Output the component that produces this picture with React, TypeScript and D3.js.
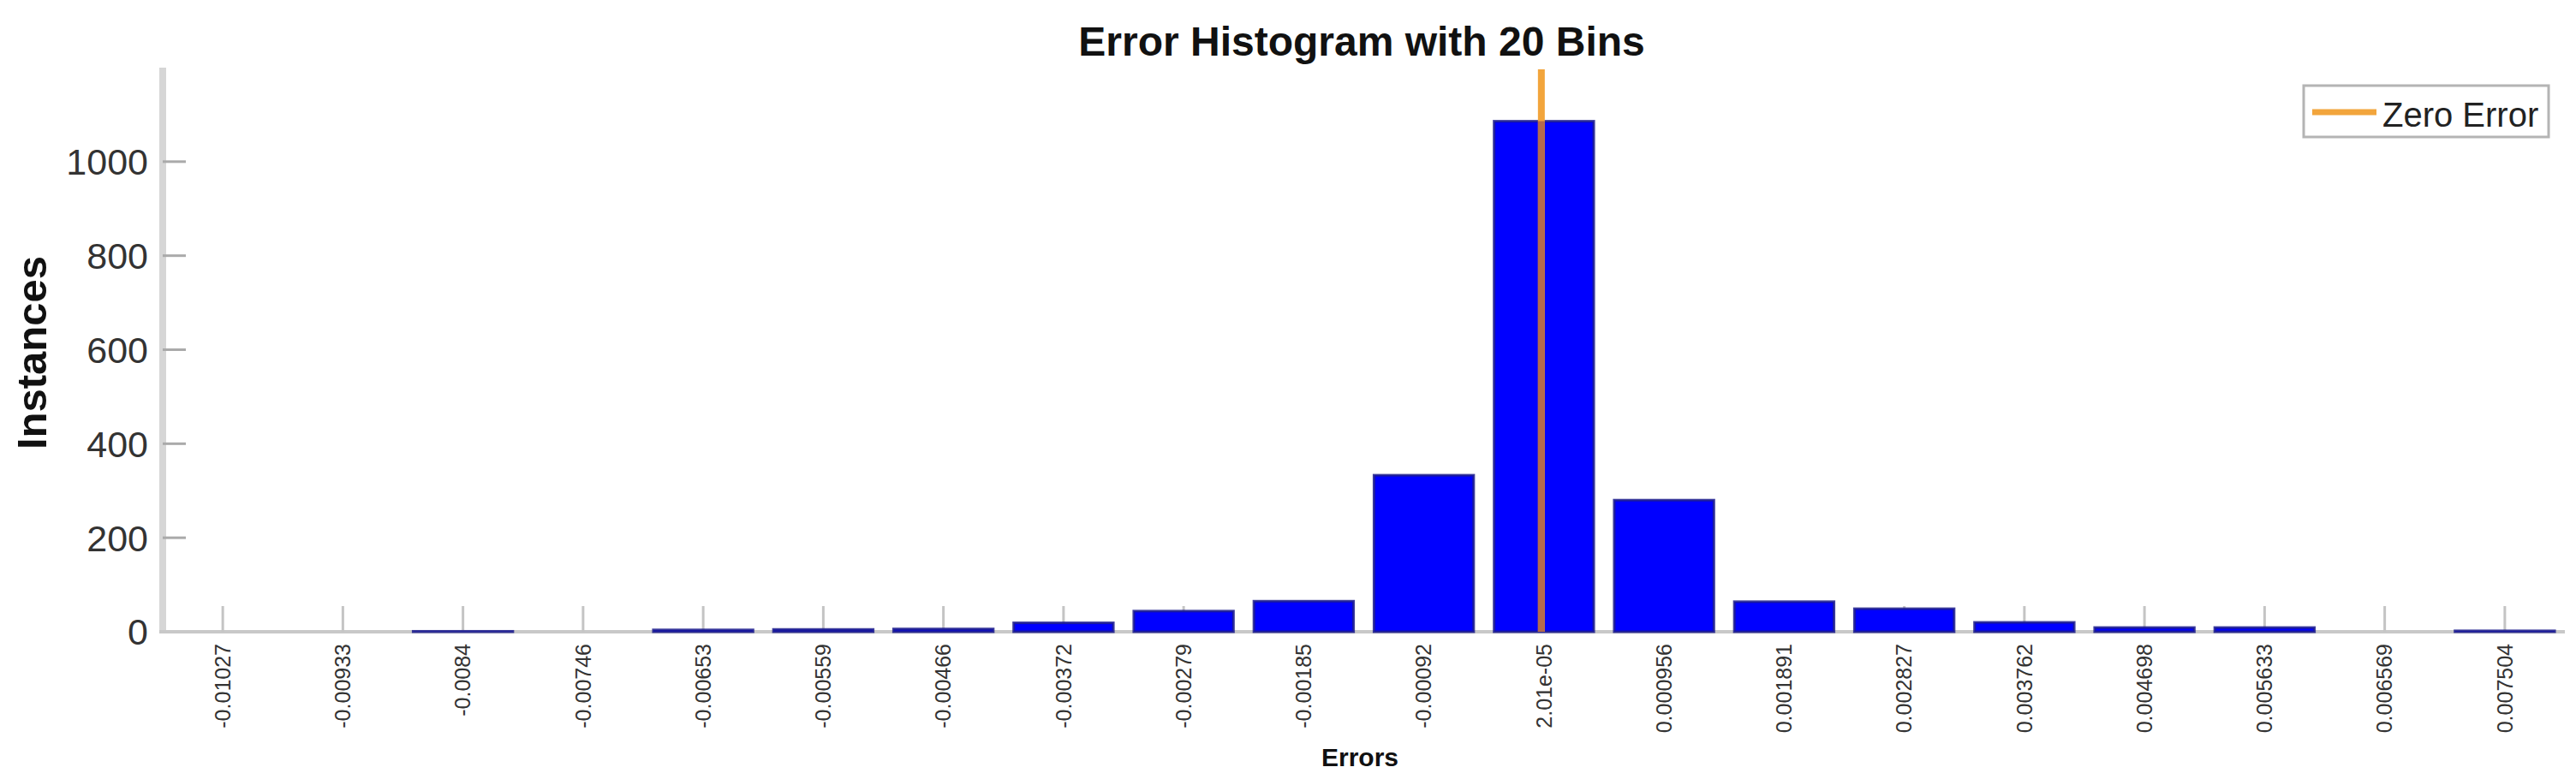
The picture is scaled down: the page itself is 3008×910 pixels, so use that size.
import React, { useEffect } from 'react';
import * as d3 from 'd3';

// bin centres as printed under the bars
const binLabels = [
  '-0.01027', '-0.00933', '-0.0084', '-0.00746', '-0.00653',
  '-0.00559', '-0.00466', '-0.00372', '-0.00279', '-0.00185',
  '-0.00092', '2.01e-05', '0.000956', '0.001891', '0.002827',
  '0.003762', '0.004698', '0.005633', '0.006569', '0.007504',
];
const binCounts = [0, 0, 1, 0, 4, 5, 6, 19, 44, 65, 333, 1086, 280, 64, 49, 20, 9, 9, 0, 2];
const yTicks = [0, 200, 400, 600, 800, 1000];

const W = 3008;
const H = 910;
const FONT = "'Liberation Sans', Arial, Helvetica, sans-serif";

const App = () => {
  useEffect(() => {
    document.body.style.margin = '0';
  }, []);

  const left = 190, right = 2995, top = 79, bottom = 738;

  const x = d3.scaleBand<string>()
    .domain(binLabels)
    .range([left, right])
    .paddingInner(0.17)
    .paddingOuter(0.085);
  const bw = x.bandwidth();
  const cx = (l: string) => (x(l) as number) + bw / 2;

  // numeric position scale, used for the zero-error marker
  const centres = binLabels.map(Number);
  const xNum = d3.scaleLinear()
    .domain([centres[0], centres[centres.length - 1]])
    .range([cx(binLabels[0]), cx(binLabels[binLabels.length - 1])]);
  const zeroX = xNum(0);

  const y = d3.scaleLinear().domain([0, 1200]).range([bottom, top]);

  const bars = binLabels.map((l, i) => ({ label: l, count: binCounts[i] })).filter(d => d.count > 0);

  return (
    <svg width={W} height={H} style={{ display: 'block', background: '#fff' }} fontFamily={FONT}>
      <defs>
        <clipPath id="barClip">
          {bars.map(d => (
            <rect key={d.label} x={x(d.label)} y={y(d.count)} width={bw} height={bottom - y(d.count)} />
          ))}
        </clipPath>
      </defs>

      {/* title */}
      <text x={1590} y={65} textAnchor="middle" fontSize={48} fontWeight="bold" fill="#111">
        Error Histogram with 20 Bins
      </text>

      {/* axis lines */}
      <line x1={left} x2={left} y1={top} y2={bottom + 2} stroke="#d6d6d6" strokeWidth={8} />
      <line x1={left - 4} x2={right} y1={bottom} y2={bottom} stroke="#c8c8c8" strokeWidth={4} />

      {/* y ticks */}
      {yTicks.map(t => (
        <g key={t}>
          {t > 0 && <line x1={left} x2={left + 27} y1={y(t)} y2={y(t)} stroke="#aaaaaa" strokeWidth={3} />}
          <text x={173} y={y(t)} dy="0.36em" textAnchor="end" fontSize={43} fill="#333">{t}</text>
        </g>
      ))}

      {/* x ticks */}
      {binLabels.map(l => (
        <line key={l} x1={cx(l)} x2={cx(l)} y1={bottom} y2={bottom - 30} stroke="#c4c4c4" strokeWidth={3} />
      ))}

      {/* bars */}
      {bars.map(d => (
        <rect
          key={d.label}
          x={x(d.label)}
          y={y(d.count)}
          width={bw}
          height={bottom - y(d.count)}
          fill="#0000ff"
          stroke="#1c1c8c"
          strokeWidth={3}
          strokeOpacity={0.85}
        />
      ))}

      {/* zero error line */}
      <line x1={zeroX} x2={zeroX} y1={top + 2} y2={bottom} stroke="#f2a53c" strokeWidth={8} />
      <line x1={zeroX} x2={zeroX} y1={top + 2} y2={bottom} stroke="#b36a4e" strokeWidth={8} clipPath="url(#barClip)" />

      {/* x tick labels */}
      {binLabels.map(l => (
        <text
          key={l}
          transform={`translate(${cx(l)},752) rotate(-90)`}
          dy="0.35em"
          textAnchor="end"
          fontSize={25}
          fill="#333"
        >
          {l}
        </text>
      ))}

      {/* axis titles */}
      <text x={1588} y={895} textAnchor="middle" fontSize={30} fontWeight="bold" fill="#111">Errors</text>
      <text
        transform="translate(37,412) rotate(-90)"
        dy="0.35em"
        textAnchor="middle"
        fontSize={49}
        fontWeight="bold"
        fill="#111"
      >
        Instances
      </text>

      {/* legend */}
      <rect x={2690} y={100} width={286} height={60} fill="#fff" stroke="#b4b4b4" strokeWidth={3} />
      <line x1={2700} x2={2775} y1={131} y2={131} stroke="#f2a53c" strokeWidth={7} />
      <text x={2782} y={148} fontSize={40} fill="#222">Zero Error</text>
    </svg>
  );
};

export default App;
